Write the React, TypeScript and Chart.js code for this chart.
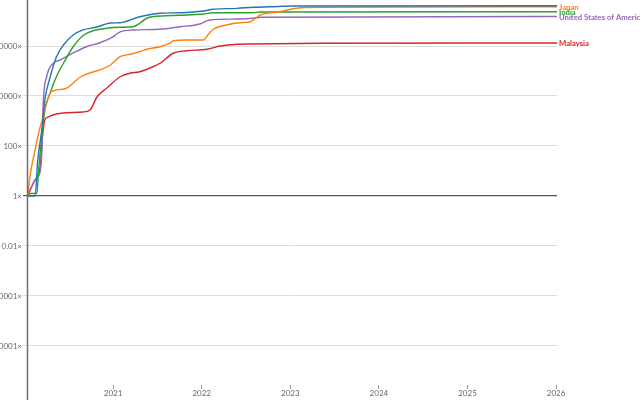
import React, { useEffect, useRef } from "react";
import { Chart, registerables } from "chart.js";

Chart.register(...registerables);

const seriesNames = ["Blue", "Japan", "India", "United States of America", "Malaysia"];
const seriesLabels = ["", "Japan", "India", "United States of America", "Malaysia"];
const seriesColors = ["#1f77b4", "#ff7f0e", "#2ca02c", "#9467bd", "#d62728"];

const blueYears = [2020.04, 2020.12, 2020.15, 2020.2, 2020.23, 2020.29, 2020.36, 2020.44, 2020.55, 2020.66, 2020.82, 2020.97, 2021.08, 2021.3, 2021.53, 2021.76, 2022.02, 2022.13, 2022.4, 2022.58, 2022.77, 2023.03, 2026.01];
const blueValues = [1, 1, 27.5, 575, 6900, 57500, 363000, 1.1e6, 2.75e6, 4.4e6, 5.75e6, 8.3e6, 8.5e6, 1.48e7, 2.04e7, 2.14e7, 2.5e7, 2.95e7, 3.2e7, 3.55e7, 3.7e7, 3.98e7, 4.07e7];

const orangeYears = [2020.04, 2020.05, 2020.08, 2020.12, 2020.16, 2020.2, 2020.25, 2020.29, 2020.32, 2020.48, 2020.55, 2020.63, 2020.78, 2020.85, 2020.97, 2021.08, 2021.19, 2021.3, 2021.38, 2021.53, 2021.64, 2021.68, 2021.83, 2022.02, 2022.07, 2022.13, 2022.28, 2022.43, 2022.55, 2022.66, 2022.88, 2023.07, 2023.34, 2026.01];
const orangeValues = [1, 2.75, 14.5, 69, 331, 1100, 5250, 13200, 15800, 20900, 33100, 57500, 93300, 110000, 174000, 372000, 468000, 589000, 741000, 933000, 1.29e6, 1.62e6, 1.74e6, 1.74e6, 2.75e6, 4.68e6, 6.9e6, 8.5e6, 9.3e6, 1.74e7, 2.34e7, 3.24e7, 3.55e7, 3.72e7];

const greenYears = [2020.04, 2020.06, 2020.14, 2020.16, 2020.18, 2020.23, 2020.29, 2020.36, 2020.44, 2020.55, 2020.67, 2020.78, 2020.93, 2021.08, 2021.23, 2021.3, 2021.38, 2021.53, 2021.76, 2022.02, 2022.13, 2022.58, 2022.66, 2026.01];
const greenValues = [1, 1.26, 1.28, 11, 69, 2750, 13200, 59000, 204000, 933000, 2.75e6, 4.1e6, 5.1e6, 5.6e6, 5.9e6, 8.1e6, 1.29e7, 1.58e7, 1.7e7, 1.9e7, 2.15e7, 2.15e7, 2.29e7, 2.34e7];

const purpleYears = [2020.04, 2020.06, 2020.1, 2020.12, 2020.15, 2020.18, 2020.2, 2020.21, 2020.25, 2020.33, 2020.4, 2020.55, 2020.7, 2020.85, 2021.0, 2021.08, 2021.23, 2021.53, 2021.76, 2021.98, 2022.09, 2022.4, 2022.58, 2022.66, 2026.01];
const purpleValues = [1, 1.58, 3.3, 4.4, 5.75, 11, 110, 3630, 57500, 209000, 275000, 525000, 933000, 1.35e6, 2.34e6, 3.7e6, 4.37e6, 4.68e6, 5.9e6, 7.6e6, 1.1e7, 1.2e7, 1.29e7, 1.41e7, 1.51e7];

const redYears = [2020.04, 2020.06, 2020.12, 2020.15, 2020.18, 2020.2, 2020.23, 2020.27, 2020.32, 2020.44, 2020.66, 2020.74, 2020.82, 2020.93, 2021.08, 2021.19, 2021.3, 2021.45, 2021.53, 2021.68, 2021.83, 2022.06, 2022.21, 2022.4, 2022.58, 2023.34, 2026.01];
const redValues = [1, 1.58, 4.4, 6.3, 17, 174, 1100, 1450, 1740, 2090, 2290, 2750, 9330, 20900, 58900, 81300, 93300, 148000, 204000, 513000, 646000, 741000, 1.0e6, 1.17e6, 1.2e6, 1.29e6, 1.32e6];

const seriesYears = [blueYears, orangeYears, greenYears, purpleYears, redYears];
const seriesValues = [blueValues, orangeValues, greenValues, purpleValues, redValues];

const xTickYears = [2021, 2022, 2023, 2024, 2025, 2026];
const yTickValues = [1e-6, 1e-4, 0.01, 1, 100, 1e4, 1e6];

const X_MIN = 2020.04;
const X_MAX = 2026.01;
const Y_MIN = 2.75e-8;
const Y_MAX = 6.92e7;

const FONT = "Lato, 'DejaVu Sans', sans-serif";

export default function App() {
  const canvasRef = useRef<HTMLCanvasElement | null>(null);

  useEffect(() => {
    const canvas = canvasRef.current;
    if (!canvas) return;

    const datasets = seriesNames.map((name, i) => ({
      label: name,
      data: seriesYears[i].map((yr, j) => ({ x: yr, y: seriesValues[i][j] })),
      borderColor: seriesColors[i],
      backgroundColor: seriesColors[i],
      borderWidth: 1.4,
      pointRadius: 0,
      cubicInterpolationMode: "monotone" as const,
      fill: false,
    }));

    const overlay = {
      id: "overlay",
      afterDraw(chart: any) {
        const ctx = chart.ctx;
        const area = chart.chartArea;
        ctx.save();
        ctx.strokeStyle = "#6e6e6e";
        ctx.lineWidth = 1.5;
        ctx.beginPath();
        ctx.moveTo(area.left - 0.5, 0);
        ctx.lineTo(area.left - 0.5, chart.height);
        ctx.stroke();
        ctx.font = `bold 7.7px ${FONT}`;
        ctx.textBaseline = "middle";
        ctx.textAlign = "left";
        const order = [0, 2, 1, 3, 4];
        order.forEach((i) => {
          const lbl = seriesLabels[i];
          if (!lbl) return;
          const meta = chart.getDatasetMeta(i);
          const pts = meta.data;
          const last = pts[pts.length - 1];
          ctx.fillStyle = seriesColors[i];
          ctx.fillText(lbl, area.right + 2, last.y + 0.5);
        });
        ctx.restore();
      },
    };

    const zeroPad = (scale: any) => {
      scale.paddingTop = 0;
      scale.paddingBottom = 0;
      scale.paddingLeft = 0;
      scale.paddingRight = 0;
    };

    const chart = new Chart(canvas, {
      type: "line",
      data: { datasets },
      options: {
        animation: false,
        responsive: false,
        maintainAspectRatio: false,
        events: [],
        layout: { padding: { left: 0, right: 83, top: 0, bottom: 0 } },
        plugins: { legend: { display: false }, tooltip: { enabled: false } },
        scales: {
          x: {
            type: "linear",
            min: X_MIN,
            max: X_MAX,
            afterBuildTicks: (scale: any) => {
              scale.ticks = xTickYears.map((v) => ({ value: v }));
            },
            afterFit: (scale: any) => {
              scale.height = 15;
              zeroPad(scale);
            },
            ticks: {
              color: "#666",
              font: { family: FONT, size: 8 },
              padding: 0,
              maxRotation: 0,
              autoSkip: false,
              callback: (v: any) => String(v),
            },
            grid: {
              display: true,
              drawOnChartArea: false,
              drawTicks: true,
              tickLength: 4,
              color: "#999",
            },
            border: { display: false },
          },
          y: {
            type: "logarithmic",
            min: Y_MIN,
            max: Y_MAX,
            bounds: "data",
            afterBuildTicks: (scale: any) => {
              scale.ticks = yTickValues.map((v) => ({ value: v }));
            },
            afterFit: (scale: any) => {
              scale.width = 88;
              zeroPad(scale);
            },
            ticks: {
              color: "#666",
              font: { family: FONT, size: 8 },
              padding: 1,
              autoSkip: false,
              callback: (v: any) => {
                const n = Number(v);
                return (n >= 1 ? n.toFixed(0) : n.toFixed(6).replace(/0+$/, "")) + "×";
              },
            },
            grid: {
              display: true,
              drawTicks: true,
              tickLength: 5,
              color: (c: any) => (c.tick && c.tick.value === 1 ? "#555" : "#dddddd"),
              lineWidth: (c: any) => (c.tick && c.tick.value === 1 ? 1.2 : 1),
            },
            border: { display: false },
          },
        },
      },
      plugins: [overlay],
    } as any);

    return () => chart.destroy();
  }, []);

  return (
    <div style={{ position: "fixed", left: -60, top: 0, width: 700, height: 400, overflow: "visible" }}>
      <canvas ref={canvasRef} width={700} height={400} style={{ width: 700, height: 400, display: "block" }} />
    </div>
  );
}
